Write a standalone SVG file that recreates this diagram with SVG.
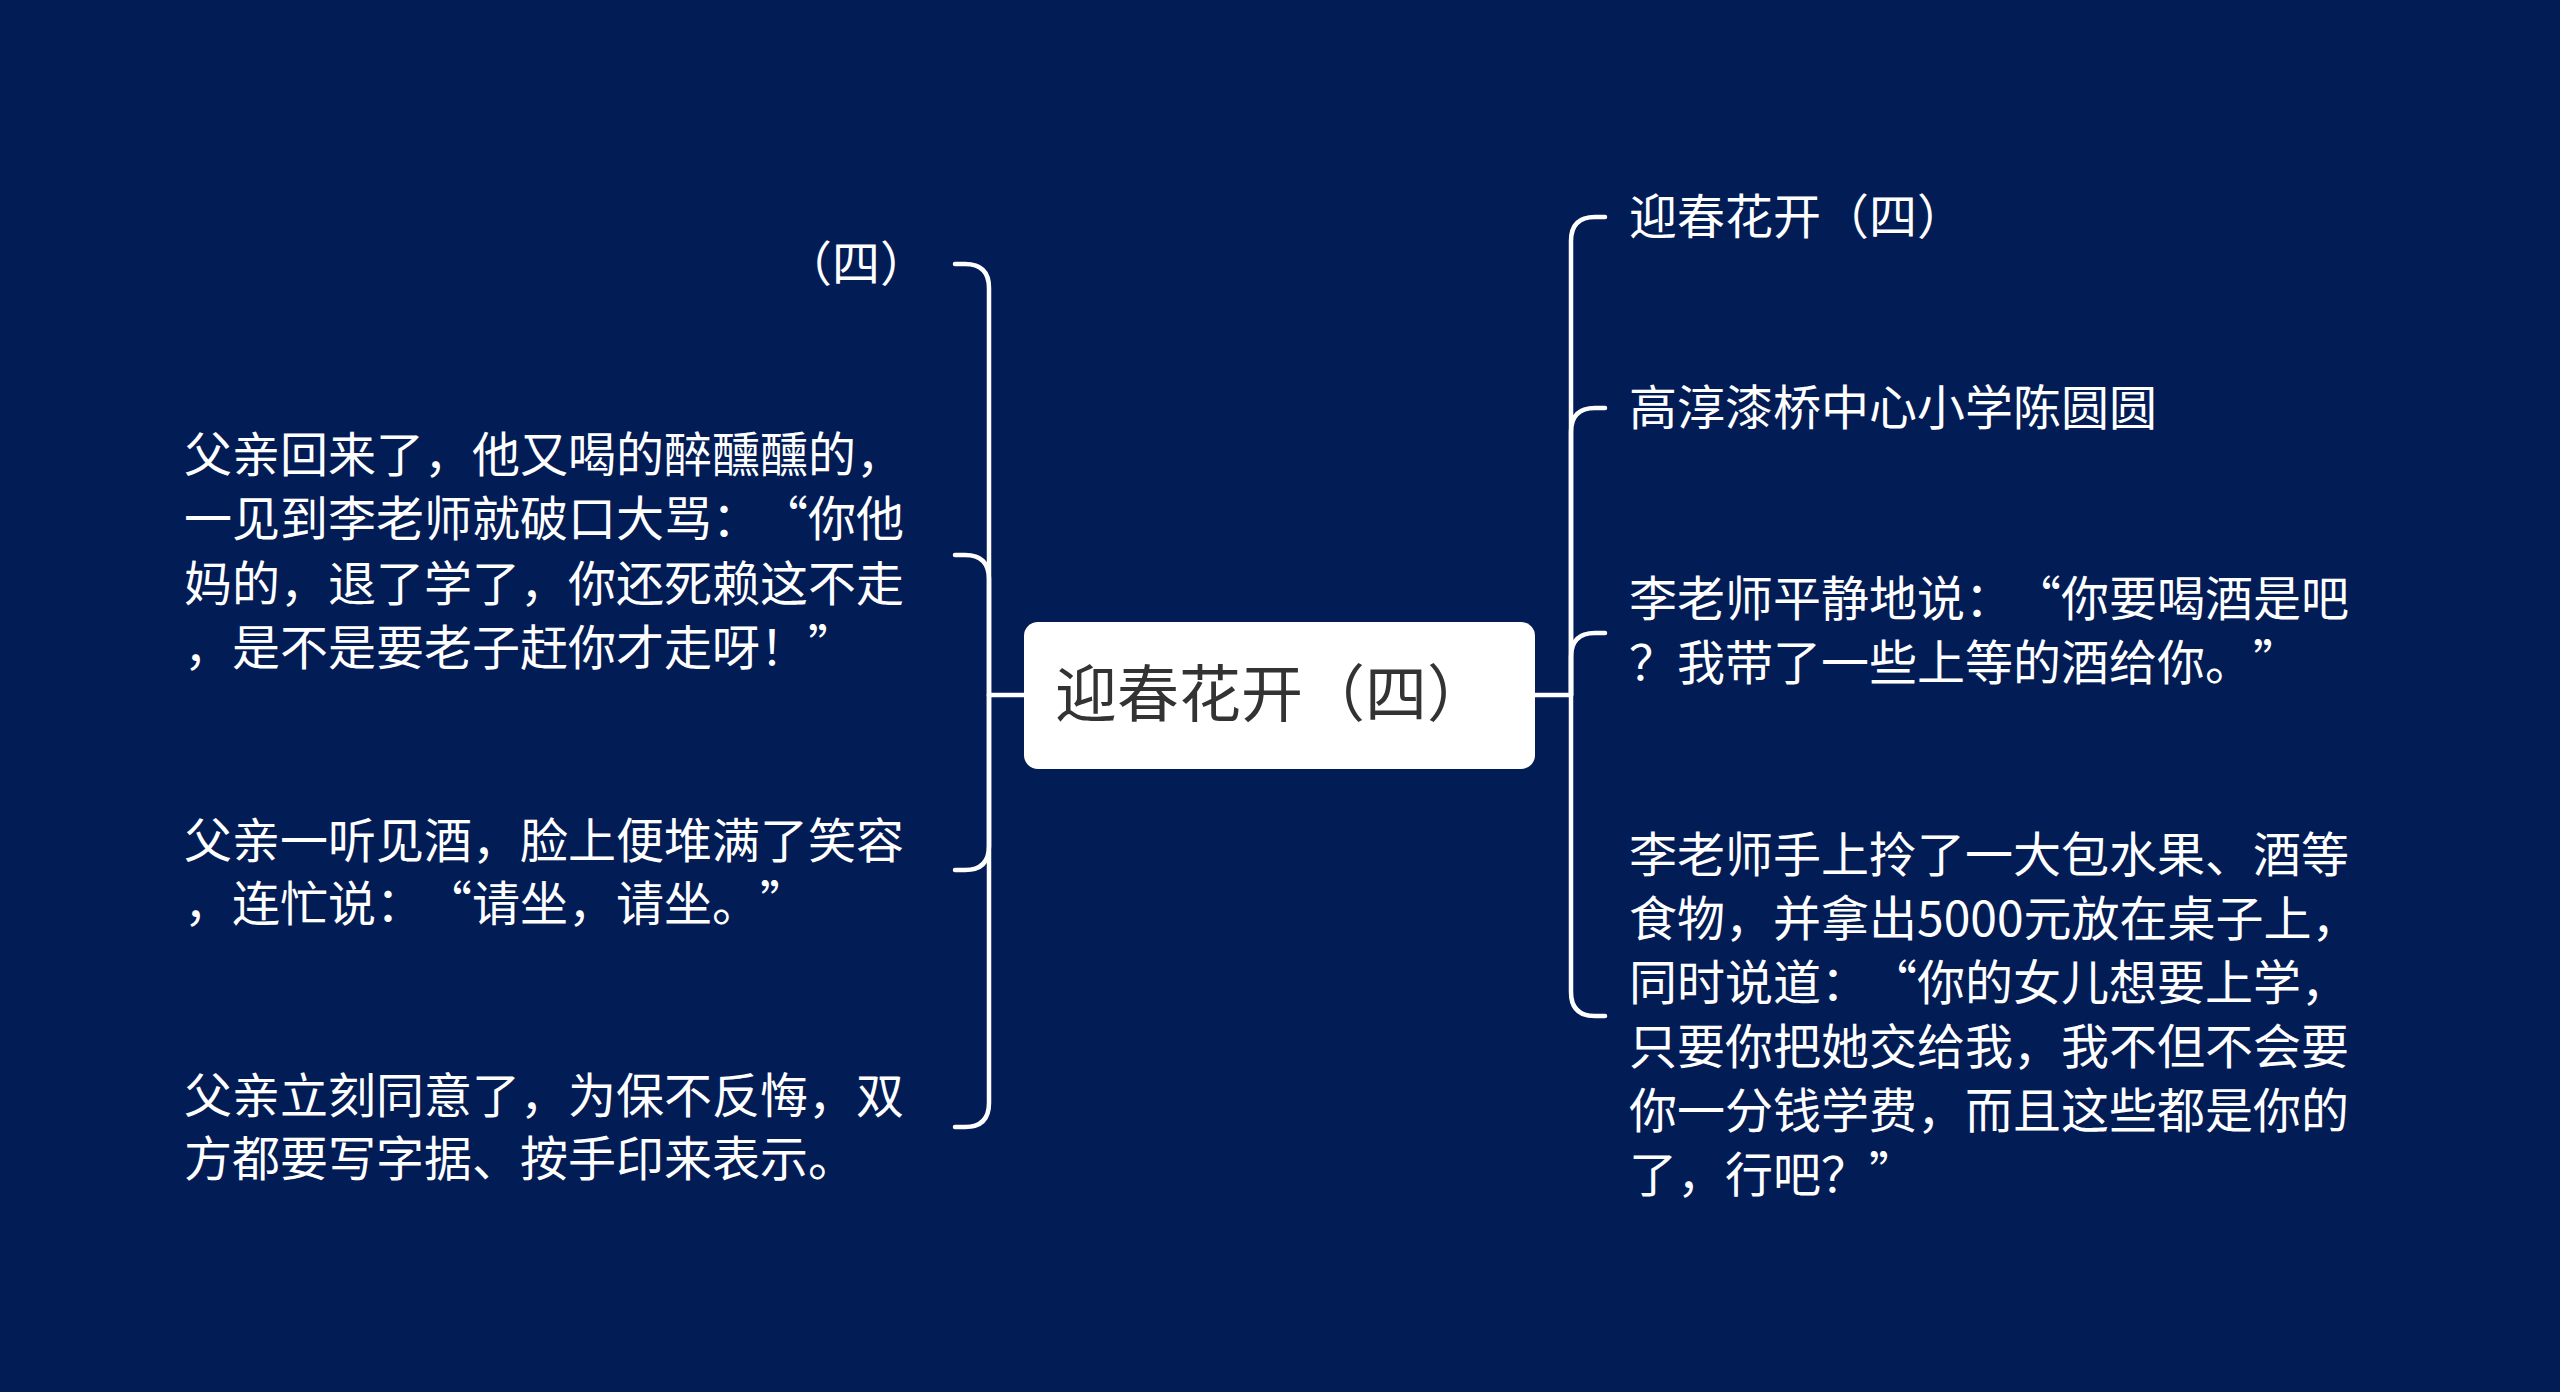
<svg xmlns="http://www.w3.org/2000/svg" width="2560" height="1392" viewBox="0 0 2560 1392">
<style>
text{text-spacing-trim:space-all}
.t{font-family:"Noto Sans CJK SC","Noto Sans",sans-serif;font-size:48px;fill:#ffffff}
.c{font-family:"Noto Sans CJK SC","Noto Sans",sans-serif;font-size:62px;fill:#333333}
.q{font-feature-settings:"fwid"}
.e{fill:none;stroke:#ffffff;stroke-width:4.5;stroke-linecap:round;stroke-linejoin:round}
</style>
<rect width="2560" height="1392" fill="#021c55"/>
<g id="connectors" class="e">
<path d="M1024 695 H989"/>
<path d="M989 695 V288 Q989 264 965 264 H955"/>
<path d="M989 695 V579 Q989 555 965 555 H955"/>
<path d="M989 695 V846 Q989 870 965 870 H955"/>
<path d="M989 695 V1103 Q989 1127 965 1127 H955"/>
<path d="M1535 695 H1571"/>
<path d="M1571 695 V241 Q1571 217 1595 217 H1605"/>
<path d="M1571 695 V432 Q1571 408 1595 408 H1605"/>
<path d="M1571 695 V657 Q1571 633 1595 633 H1605"/>
<path d="M1571 695 V992 Q1571 1016 1595 1016 H1605"/>
</g>
<g id="root">
<rect x="1024" y="622" width="511" height="147" rx="14" fill="#ffffff"/>
<text class="c" x="1055" y="717">迎春花开（四）</text>
</g>
<g id="l1"><text class="t" x="928" y="281" text-anchor="end">（四）</text></g>
<g id="l2"><text class="t">
<tspan x="184" y="472">父亲回来了，他又喝的醉醺醺的，</tspan>
<tspan class="q" x="184" y="536">一见到李老师就破口大骂：“你他</tspan>
<tspan x="184" y="601">妈的，退了学了，你还死赖这不走</tspan>
<tspan class="q" x="184" y="665">，是不是要老子赶你才走呀！”</tspan>
</text></g>
<g id="l3"><text class="t">
<tspan x="184" y="858">父亲一听见酒，脸上便堆满了笑容</tspan>
<tspan class="q" x="184" y="921">，连忙说：“请坐，请坐。”</tspan>
</text></g>
<g id="l4"><text class="t">
<tspan x="184" y="1113">父亲立刻同意了，为保不反悔，双</tspan>
<tspan x="184" y="1176">方都要写字据、按手印来表示。</tspan>
</text></g>
<g id="r1"><text class="t" x="1629" y="234">迎春花开（四）</text></g>
<g id="r2"><text class="t" x="1629" y="425">高淳漆桥中心小学陈圆圆</text></g>
<g id="r3"><text class="t">
<tspan class="q" x="1629" y="616">李老师平静地说：“你要喝酒是吧</tspan>
<tspan class="q" x="1629" y="680">？我带了一些上等的酒给你。”</tspan>
</text></g>
<g id="r4"><text class="t">
<tspan x="1629" y="872">李老师手上拎了一大包水果、酒等</tspan>
<tspan x="1629" y="936">食物，并拿出5000元放在桌子上，</tspan>
<tspan class="q" x="1629" y="1000">同时说道：“你的女儿想要上学，</tspan>
<tspan x="1629" y="1064">只要你把她交给我，我不但不会要</tspan>
<tspan x="1629" y="1128">你一分钱学费，而且这些都是你的</tspan>
<tspan class="q" x="1629" y="1192">了，行吧？”</tspan>
</text></g>
</svg>
